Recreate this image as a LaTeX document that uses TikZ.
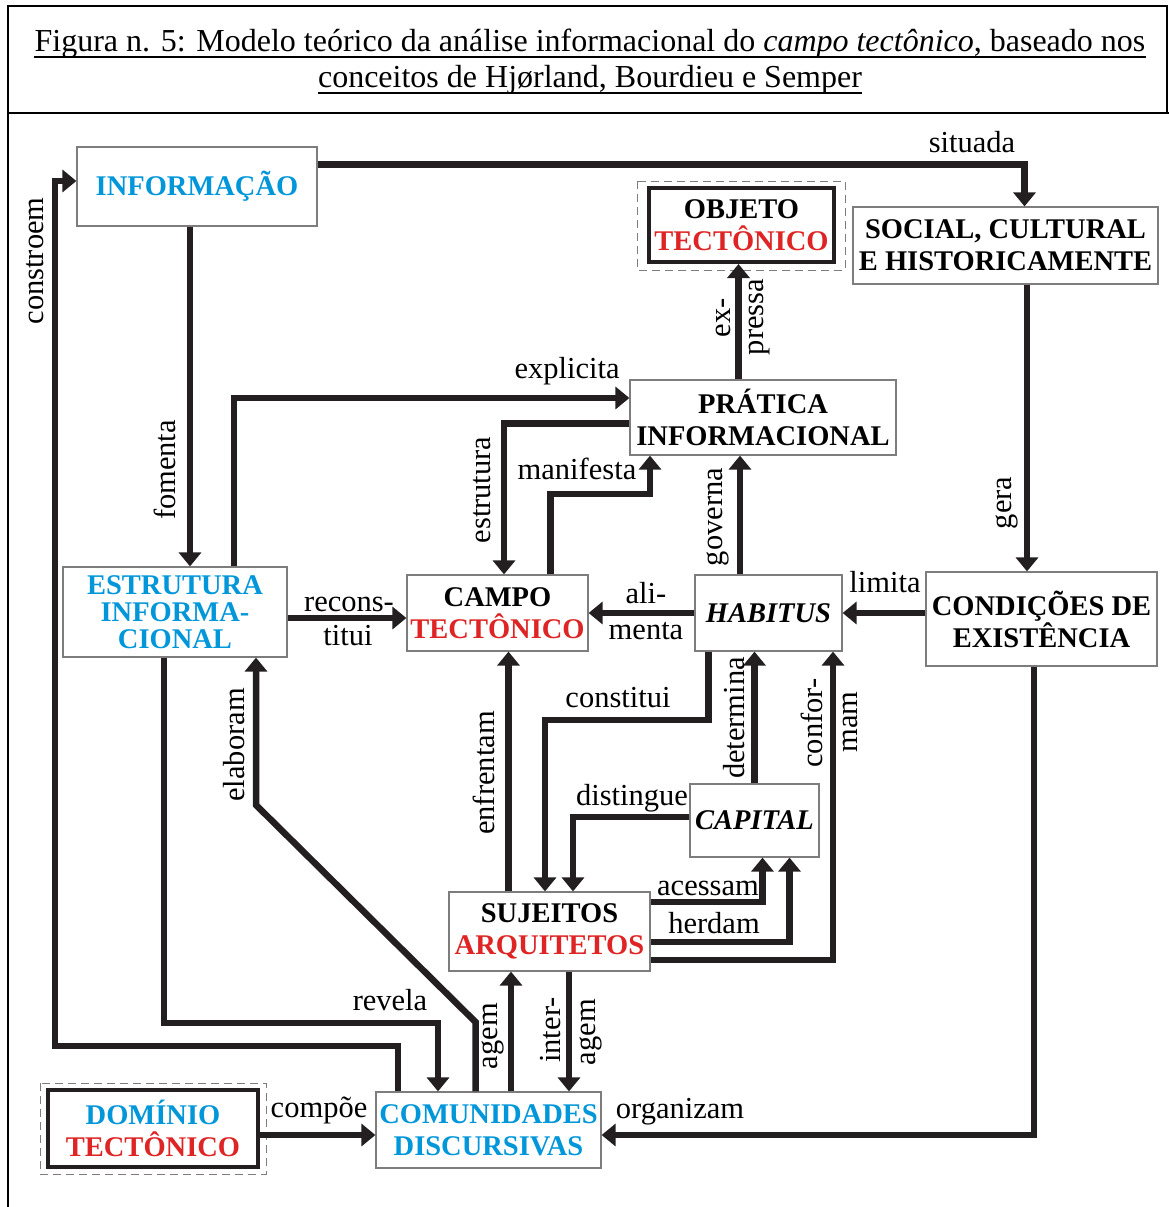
\documentclass[tikz,border=0pt]{standalone}
\usepackage{fontspec}
\setmainfont{Liberation Serif}
\usetikzlibrary{arrows.meta,positioning}
\definecolor{linha}{RGB}{35,31,32}
\definecolor{azul}{RGB}{0,150,218}
\definecolor{vermelho}{RGB}{222,36,36}
\definecolor{borda}{RGB}{125,125,125}
\tikzset{%
	caixa/.style      = {draw=borda, line width=1.2pt, rectangle, align=center, inner sep=0pt, fill=white, font=\fontsize{28.5}{32}\selectfont\bfseries},
	caixaforte/.style = {caixa, draw=linha, line width=4pt},
	tracejado/.style  = {draw=borda, line width=1pt, dash pattern=on 8pt off 5pt},
	seta/.style       = {draw=linha, line width=6.5pt, -{Triangle[width=22pt,length=14pt]}},
	rotulo/.style     = {inner sep=0pt, anchor=base, font=\fontsize{30.5}{33}\selectfont},
	rotulov/.style    = {rotulo, rotate=90},
	titulo/.style     = {inner sep=0pt, anchor=base, font=\fontsize{32}{36}\selectfont},
}

\begin{document}
\begin{tikzpicture}[x=1pt,y=-1pt]
	\useasboundingbox (0,0) rectangle (1169,1207);
	% moldura e titulo
	\draw[line width=2.6pt] (8,1207) -- (8,6) -- (1167,6) -- (1167,113);
	\draw[line width=2.6pt] (8,113) -- (1169,113);
	\node[titulo] (tit1) at (590,52) {Figura n. 5: Modelo teórico da análise informacional do \textit{campo tectônico}, baseado nos};
	\node[titulo] (tit2) at (590,88) {conceitos de Hjørland, Bourdieu e Semper};
	\draw[line width=1.8pt] ([yshift=-5pt]tit1.base west) -- ([yshift=-5pt]tit1.base east);
	\draw[line width=1.8pt] ([yshift=-5pt]tit2.base west) -- ([yshift=-5pt]tit2.base east);

	% caixas
	\node[caixa, text=azul, minimum width=240pt, minimum height=79pt] (info) at (197,186.5) {INFORMAÇÃO};
	\node[caixaforte, minimum width=185pt, minimum height=74pt] (objeto) at (741.5,225) {OBJETO\\\textcolor{vermelho}{TECTÔNICO}};
	\node[caixa, minimum width=305pt, minimum height=77pt] (social) at (1005.5,245.5) {SOCIAL, CULTURAL\\E HISTORICAMENTE};
	\node[caixa, minimum width=266pt, minimum height=75pt] (pratica) at (763,417.5) {PRÁTICA\\INFORMACIONAL};
	\node[caixa, text=azul, minimum width=224pt, minimum height=90pt, font=\fontsize{28.5}{27}\selectfont\bfseries] (estrutura) at (175,612) {ESTRUTURA\\INFORMA-\\CIONAL};
	\node[caixa, minimum width=181pt, minimum height=76pt] (campo) at (497.5,613) {CAMPO\\\textcolor{vermelho}{TECTÔNICO}};
	\node[caixa, minimum width=147pt, minimum height=76pt] (habitus) at (768.5,613) {\textit{HABITUS}};
	\node[caixa, minimum width=231pt, minimum height=94pt] (condicoes) at (1041.5,619) {CONDIÇÕES DE\\EXISTÊNCIA};
	\node[caixa, minimum width=129pt, minimum height=73pt] (capital) at (754.5,820.5) {\textit{CAPITAL}};
	\node[caixa, minimum width=201pt, minimum height=79pt] (sujeitos) at (549.5,931.5) {SUJEITOS\\\textcolor{vermelho}{ARQUITETOS}};
	\node[caixaforte, text=azul, minimum width=210pt, minimum height=77pt] (dominio) at (153,1128.5) {DOMÍNIO\\\textcolor{vermelho}{TECTÔNICO}};
	\node[caixa, text=azul, minimum width=225pt, minimum height=76pt] (comunidades) at (488.5,1130) {COMUNIDADES\\DISCURSIVAS};
	\draw[tracejado] ([shift={(-10pt,5pt)}]objeto.north west) rectangle ([shift={(9pt,-6pt)}]objeto.south east);
	\draw[tracejado] ([shift={(-6pt,5pt)}]dominio.north west) rectangle ([shift={(6pt,-5pt)}]dominio.south east);

	% ligacoes
	\draw[seta] ([yshift=-18pt]info.north east) -| ([xshift=19pt]social.north);
	\draw[seta] ([xshift=-7pt]info.south) -- ([xshift=-7pt]info.south |- estrutura.north);
	\draw[seta] ([xshift=-90.5pt]comunidades.north) |- (55,1046) |- ([yshift=5.5pt]info.west);
	\draw[seta] ([xshift=59pt]estrutura.north) |- ([yshift=19.5pt]pratica.west);
	\draw[seta] ([yshift=-6pt]pratica.west) -| ([xshift=6.5pt]campo.north);
	\draw[seta] ([xshift=53pt]campo.north) -- (550.5,494) -| ([xshift=-113pt]pratica.south);
	\draw[seta] ([xshift=-3pt]objeto.south |- pratica.north) -- ([xshift=-3pt]objeto.south);
	\draw[seta] ([xshift=-28.5pt]habitus.north) -- ([xshift=-28.5pt]habitus.north |- pratica.south);
	\draw[seta] ([xshift=21.5pt]social.south) -- ([xshift=21.5pt]social.south |- condicoes.north);
	\draw[seta] (habitus.east -| condicoes.west) -- (habitus.east);
	\draw[seta] (habitus.west) -- (campo.east);
	\draw[seta] ([yshift=-6pt]estrutura.east) -- ([yshift=-6pt]estrutura.east -| campo.west);
	\draw[seta] ([xshift=11pt]campo.south |- sujeitos.north) -- ([xshift=11pt]campo.south);
	\draw[seta] ([xshift=-60pt]habitus.south) |- (545,720) -- ([xshift=-4.5pt]sujeitos.north);
	\draw[seta] ([yshift=3.5pt]capital.west) -| ([xshift=23.5pt]sujeitos.north);
	\draw[seta] (capital.north) -- (capital.north |- habitus.south);
	\draw[seta] ([yshift=-28.5pt]sujeitos.east) -| ([xshift=64.5pt]habitus.south);
	\draw[seta] ([yshift=29.5pt]sujeitos.east) -| ([xshift=8pt]capital.south);
	\draw[seta] ([yshift=-10.5pt]sujeitos.east) -| ([xshift=35pt]capital.south);
	\draw[seta] ([xshift=-13pt]comunidades.north) -- (475.5,1022) -- (256,805) -- ([xshift=81pt]estrutura.south);
	\draw[seta] ([xshift=-11pt]estrutura.south) |- (438,1023) -- ([xshift=-50.5pt]comunidades.north);
	\draw[seta] ([xshift=22.5pt]comunidades.north) -- ([xshift=22.5pt]comunidades.north |- sujeitos.south);
	\draw[seta] ([xshift=19.5pt]sujeitos.south) -- ([xshift=19.5pt]sujeitos.south |- comunidades.north);
	\draw[seta] ([yshift=-6.5pt]dominio.east) -- ([yshift=-6.5pt]dominio.east -| comunidades.west);
	\draw[seta] ([xshift=-7.5pt]condicoes.south) |- ([yshift=-5pt]comunidades.east);

	% rotulos
	\node[rotulo] (r-situada) at (972,152) {situada};
	\node[rotulo] (r-explicita) at (567,378) {explicita};
	\node[rotulo] (r-manifesta) at (577,479) {manifesta};
	\node[rotulo] (r-limita) at (885,592) {limita};
	\node[rotulo] (r-ali) at (646,603) {ali-};
	\node[rotulo] (r-menta) at (646,639) {menta};
	\node[rotulo] (r-recons) at (349,611) {recons-};
	\node[rotulo] (r-titui) at (348,645) {titui};
	\node[rotulo] (r-constitui) at (618,707) {constitui};
	\node[rotulo] (r-distingue) at (632,805) {distingue};
	\node[rotulo] (r-acessam) at (708,895) {acessam};
	\node[rotulo] (r-herdam) at (714,933) {herdam};
	\node[rotulo] (r-revela) at (390,1010) {revela};
	\node[rotulo] (r-compoe) at (319,1117) {compõe};
	\node[rotulo] (r-organizam) at (680,1118) {organizam};
	\node[rotulov] (r-constroem) at (43,261) {constroem};
	\node[rotulov] (r-fomenta) at (175,470) {fomenta};
	\node[rotulov] (r-estrutura) at (490,490) {estrutura};
	\node[rotulov] (r-ex) at (730,318) {ex-};
	\node[rotulov] (r-pressa) at (763,317) {pressa};
	\node[rotulov] (r-governa) at (722,517) {governa};
	\node[rotulov] (r-gera) at (1011,503) {gera};
	\node[rotulov] (r-enfrentam) at (494,773) {enfrentam};
	\node[rotulov] (r-determina) at (744,718) {determina};
	\node[rotulov] (r-confor) at (822,723) {confor-};
	\node[rotulov] (r-mam) at (857,722) {mam};
	\node[rotulov] (r-elaboram) at (244,745) {elaboram};
	\node[rotulov] (r-agem) at (497,1036) {agem};
	\node[rotulov] (r-inter) at (560,1030) {inter-};
	\node[rotulov] (r-agem2) at (595,1032) {agem};
\end{tikzpicture}
\end{document}
